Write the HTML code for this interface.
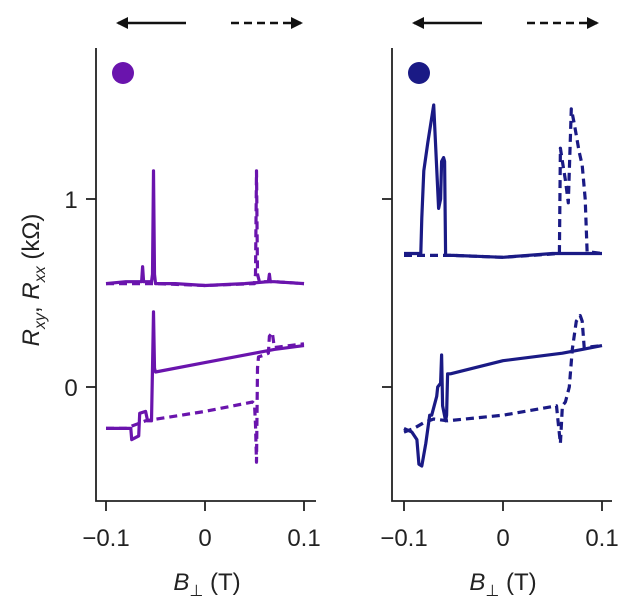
<!DOCTYPE html>
<html><head><meta charset="utf-8"><style>
body{margin:0;background:#fff}
svg{display:block;font-family:"Liberation Sans",sans-serif}
</style></head><body>
<svg id="fig" width="640" height="611" viewBox="0 0 640 611">
<defs>
<marker id="ah" markerWidth="12" markerHeight="12" refX="10" refY="6" orient="auto" markerUnits="userSpaceOnUse"><path d="M0,0 L12,6 L0,12 Z" fill="#111"/></marker>
</defs>
<text transform="translate(39,280) rotate(-90)" text-anchor="middle" font-size="24" fill="#222"><tspan font-style="italic">R</tspan><tspan font-style="italic" font-size="16" dy="6">xy</tspan><tspan dy="-6">, </tspan><tspan font-style="italic">R</tspan><tspan font-style="italic" font-size="16" dy="6">xx</tspan><tspan dy="-6"> (kΩ)</tspan></text>
<g id="panels"></g>
</svg>
<script>
// Data (x in T, y in kΩ)
const xTicks=[-0.1,0,0.1];
const xTickLabels=['\u22120.1','0','0.1'];
const yTicks=[0,1];
const yTickLabels=['0','1'];
// Left panel (purple)
const L_rxxSolidX=[0.1,0.07,0.066,0.065,0.064,0.04,0.0,-0.03,-0.05,-0.051,-0.052,-0.053,-0.054,-0.062,-0.063,-0.064,-0.08,-0.1];
const L_rxxSolidY=[0.55,0.56,0.56,0.6,0.56,0.55,0.54,0.55,0.55,0.6,1.15,0.6,0.56,0.56,0.64,0.56,0.56,0.55];
const L_rxxDashX=[-0.1,-0.05,0.0,0.05,0.051,0.052,0.053,0.055,0.07,0.1];
const L_rxxDashY=[0.55,0.55,0.54,0.55,0.6,1.15,0.6,0.56,0.56,0.55];
const L_rxySolidX=[0.1,0.07,0.05,0.0,-0.05,-0.051,-0.052,-0.053,-0.054,-0.058,-0.06,-0.066,-0.067,-0.074,-0.075,-0.08,-0.1];
const L_rxySolidY=[0.22,0.2,0.18,0.13,0.08,0.1,0.4,0.1,-0.18,-0.18,-0.13,-0.14,-0.26,-0.28,-0.22,-0.22,-0.22];
const L_rxyDashX=[-0.1,-0.08,-0.06,0.0,0.048,0.05,0.051,0.052,0.053,0.054,0.06,0.064,0.065,0.068,0.07,0.1];
const L_rxyDashY=[-0.22,-0.22,-0.18,-0.13,-0.08,-0.09,-0.2,-0.4,0.1,0.16,0.17,0.18,0.27,0.29,0.21,0.23];
// Right panel (navy)
const R_rxxSolidX=[0.1,0.05,0.0,-0.05,-0.058,-0.059,-0.06,-0.062,-0.063,-0.065,-0.07,-0.076,-0.08,-0.082,-0.083,-0.1];
const R_rxxSolidY=[0.71,0.71,0.69,0.7,0.7,1.2,1.22,1.2,1.0,0.95,1.5,1.3,1.15,0.9,0.71,0.71];
const R_rxxDashX=[-0.1,-0.05,0.0,0.057,0.058,0.06,0.063,0.066,0.069,0.072,0.077,0.08,0.083,0.085,0.1];
const R_rxxDashY=[0.7,0.7,0.69,0.71,1.27,1.2,1.1,0.98,1.48,1.4,1.25,1.18,1.0,0.72,0.71];
const R_rxySolidX=[0.1,0.08,0.06,0.0,-0.053,-0.056,-0.057,-0.058,-0.061,-0.062,-0.063,-0.066,-0.067,-0.072,-0.074,-0.078,-0.082,-0.085,-0.087,-0.092,-0.1];
const R_rxySolidY=[0.22,0.2,0.18,0.14,0.07,0.07,-0.15,-0.18,-0.1,0.17,0.02,0.0,-0.05,-0.15,-0.15,-0.3,-0.42,-0.41,-0.28,-0.24,-0.22];
const R_rxyDashX=[-0.1,-0.09,-0.08,-0.07,-0.056,0.0,0.054,0.056,0.058,0.06,0.063,0.067,0.07,0.074,0.078,0.08,0.082,0.1];
const R_rxyDashY=[-0.24,-0.22,-0.19,-0.17,-0.18,-0.15,-0.1,-0.2,-0.3,-0.1,-0.08,0.0,0.2,0.35,0.38,0.35,0.21,0.22];

const NS='http://www.w3.org/2000/svg';
const root=document.getElementById('panels');
function el(tag,attrs,parent){const e=document.createElementNS(NS,tag);for(const k in attrs)e.setAttribute(k,attrs[k]);(parent||root).appendChild(e);return e;}
const yScale=v=>387-188*v;

function panel(name,axX,x0,color,series,showYLabels){
  const xScale=v=>x0+v*990;
  const g=el('g',{});
  
  
  const ax=el('path',{d:`M${axX},48 V501 H${axX+220}`,fill:'none',stroke:'#222','stroke-width':1.8},g);
  
  
  xTicks.forEach((t,i)=>{
    const tk=el('line',{x1:xScale(t),x2:xScale(t),y1:501,y2:511,stroke:'#222','stroke-width':1.8},g);
    
    
    const lb=el('text',{x:xScale(t),y:546,'text-anchor':'middle','font-size':24,fill:'#222'},g);
    lb.textContent=xTickLabels[i];
    
    
  });
  yTicks.forEach((t,i)=>{
    const tk=el('line',{x1:axX-10,x2:axX,y1:yScale(t),y2:yScale(t),stroke:'#222','stroke-width':1.8},g);
    
    
    if(showYLabels){
      const lb=el('text',{x:axX-25,y:yScale(t)+9,'text-anchor':'middle','font-size':24,fill:'#222'},g);
      lb.textContent=yTickLabels[i];
      
      
    }
  });
  const tt=el('text',{x:axX+111,y:590,'text-anchor':'middle','font-size':24,fill:'#222'},g);
  tt.innerHTML='<tspan font-style="italic">B</tspan><tspan font-size="16" dy="6">⊥</tspan><tspan dy="-6"> (T)</tspan>';
  
  
  const dot=el('circle',{cx:axX+27,cy:73,r:11,fill:color},g);
  
  
  const a1=el('line',{x1:axX+90,x2:axX+22,y1:23,y2:23,stroke:'#111','stroke-width':2.5,'marker-end':'url(#ah)'},g);
  
  
  const a2=el('line',{x1:axX+135,x2:axX+205,y1:23,y2:23,stroke:'#111','stroke-width':2.5,'stroke-dasharray':'8,5','marker-end':'url(#ah)'},g);
  
  
  series.forEach(s=>{
    const d=s.x.map((v,i)=>(i?'L':'M')+xScale(v).toFixed(1)+','+yScale(s.y[i]).toFixed(1)).join(' ');
    const p=el('path',{d,fill:'none',stroke:color,'stroke-width':3.2,'stroke-linejoin':'round','stroke-dasharray':s.dash?'8,5':'none'},g);
    
    
  });
}
panel('left-panel',96,205,'#6a14ad',[
  {name:'rxx-sweep-down',x:L_rxxSolidX,y:L_rxxSolidY},
  {name:'rxx-sweep-up',x:L_rxxDashX,y:L_rxxDashY,dash:1},
  {name:'rxy-sweep-down',x:L_rxySolidX,y:L_rxySolidY},
  {name:'rxy-sweep-up',x:L_rxyDashX,y:L_rxyDashY,dash:1}],true);
panel('right-panel',392,503,'#1a1a85',[
  {name:'rxx-sweep-down',x:R_rxxSolidX,y:R_rxxSolidY},
  {name:'rxx-sweep-up',x:R_rxxDashX,y:R_rxxDashY,dash:1},
  {name:'rxy-sweep-down',x:R_rxySolidX,y:R_rxySolidY},
  {name:'rxy-sweep-up',x:R_rxyDashX,y:R_rxyDashY,dash:1}],false);
</script>
</body></html>
